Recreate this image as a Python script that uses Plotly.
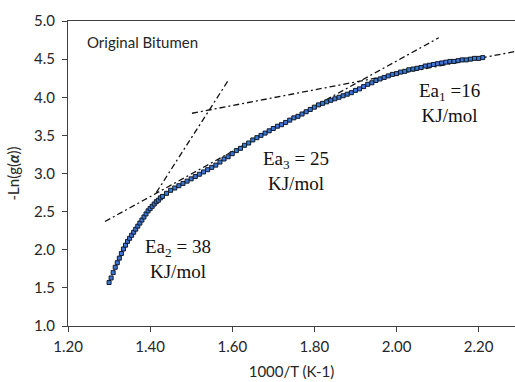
import plotly.graph_objects as go

# Measured data (1000/T vs -Ln(g(alpha)))
x_data = [1.300, 1.305, 1.310, 1.315, 1.320, 1.325, 1.330, 1.335, 1.340, 1.345,
          1.350, 1.355, 1.360, 1.365, 1.370, 1.375, 1.380, 1.385, 1.390, 1.395,
          1.400, 1.405, 1.410, 1.415, 1.420, 1.425,
          1.43, 1.44, 1.45, 1.46, 1.47, 1.48, 1.49,
          1.50, 1.51, 1.52, 1.53, 1.54, 1.55, 1.56, 1.57, 1.58, 1.59,
          1.60, 1.61, 1.62, 1.63, 1.64, 1.65, 1.66, 1.67, 1.68, 1.69,
          1.70, 1.71, 1.72, 1.73, 1.74, 1.75, 1.76, 1.77, 1.78, 1.79,
          1.80, 1.81, 1.82, 1.83, 1.84, 1.85, 1.86, 1.87, 1.88, 1.89,
          1.90, 1.91, 1.92, 1.93, 1.94, 1.95, 1.96, 1.97, 1.98, 1.99,
          2.00, 2.01, 2.02, 2.03, 2.04, 2.05, 2.06, 2.07, 2.08, 2.09,
          2.10, 2.11, 2.12, 2.13, 2.14, 2.15, 2.16, 2.17, 2.18, 2.19,
          2.20, 2.21]
y_data = [1.57, 1.63, 1.70, 1.77, 1.83, 1.89, 1.95, 2.01, 2.06, 2.11,
          2.15, 2.19, 2.23, 2.27, 2.31, 2.35, 2.39, 2.43, 2.47, 2.51,
          2.54, 2.57, 2.60, 2.63, 2.65, 2.68,
          2.70, 2.74, 2.78, 2.81, 2.84, 2.87, 2.90,
          2.93, 2.96, 2.99, 3.02, 3.05, 3.08, 3.11, 3.15, 3.19, 3.22,
          3.26, 3.30, 3.33, 3.37, 3.40, 3.44, 3.47, 3.50, 3.53, 3.56,
          3.59, 3.62, 3.64, 3.67, 3.70, 3.73, 3.75, 3.78, 3.81, 3.84,
          3.87, 3.90, 3.92, 3.94, 3.96, 3.98, 4.00, 4.02, 4.04, 4.06,
          4.09, 4.11, 4.14, 4.17, 4.19, 4.22, 4.24, 4.26, 4.28, 4.30,
          4.31, 4.33, 4.34, 4.36, 4.37, 4.38, 4.39, 4.41, 4.42, 4.43,
          4.44, 4.45, 4.46, 4.47, 4.47, 4.48, 4.49, 4.49, 4.50, 4.51,
          4.51, 4.52]

# Tangent (fit) lines, endpoints
fit2_x = [1.415, 1.589]
fit2_y = [2.75, 4.21]
fit3_x = [1.290, 2.103]
fit3_y = [2.37, 4.78]
fit1_x = [1.502, 2.289]
fit1_y = [3.79, 4.60]

x_ticks = [1.20, 1.40, 1.60, 1.80, 2.00, 2.20]
y_ticks = [1.0, 1.5, 2.0, 2.5, 3.0, 3.5, 4.0, 4.5, 5.0]

fig = go.Figure()

dash_style = dict(color="#111111", width=1.3, dash="6px,3px,2px,3px")
for fx, fy in [(fit2_x, fit2_y), (fit3_x, fit3_y), (fit1_x, fit1_y)]:
    fig.add_trace(go.Scatter(x=fx, y=fy, mode="lines", line=dash_style,
                             showlegend=False, hoverinfo="skip"))

fig.add_trace(go.Scatter(
    x=x_data, y=y_data, mode="markers",
    marker=dict(symbol="square", size=4, color="#3C78D8",
                line=dict(color="#10182a", width=1)),
    showlegend=False))

tick_font = dict(family="Lato, Open Sans, sans-serif", size=15, color="#262626")
serif = dict(family="Liberation Serif, Times New Roman, serif", size=19, color="#111111")

fig.add_annotation(x=1.241, y=4.725, xref="x", yref="y", text="Original Bitumen",
                   showarrow=False, xanchor="left", yanchor="middle", font=tick_font)
fig.add_annotation(x=1.467, y=1.88, xref="x", yref="y",
                   text="Ea<sub>2</sub> = 38<br>KJ/mol", showarrow=False, font=serif)
fig.add_annotation(x=1.755, y=3.03, xref="x", yref="y",
                   text="Ea<sub>3</sub> = 25<br>KJ/mol", showarrow=False, font=serif)
fig.add_annotation(x=2.130, y=3.92, xref="x", yref="y",
                   text="Ea<sub>1</sub> =16<br>KJ/mol", showarrow=False, font=serif)

fig.update_layout(
    width=515, height=382,
    margin=dict(l=68, r=0, t=21, b=56),
    paper_bgcolor="white", plot_bgcolor="white",
    font=tick_font,
)
fig.update_xaxes(
    range=[1.2, 2.2886], tickvals=x_ticks, tickformat=".2f",
    showgrid=False, zeroline=False, showline=True, linecolor="#404040", linewidth=1,
    mirror=True, ticks="outside", ticklen=5, tickcolor="#404040",
    ticklabelstandoff=2,
    title=dict(text="1000/T (K-1)", font=tick_font, standoff=12),
    tickfont=tick_font,
)
fig.update_yaxes(
    range=[1.0, 5.0], tickvals=y_ticks, tickformat=".1f",
    showgrid=False, zeroline=False, showline=True, linecolor="#404040", linewidth=1,
    ticks="outside", ticklen=5, tickcolor="#404040",
    ticklabelstandoff=4,
    title=dict(text="-Ln(g(<b><i>α</i></b>))", font=tick_font, standoff=10),
    tickfont=tick_font,
)

fig.write_html("out.html")
